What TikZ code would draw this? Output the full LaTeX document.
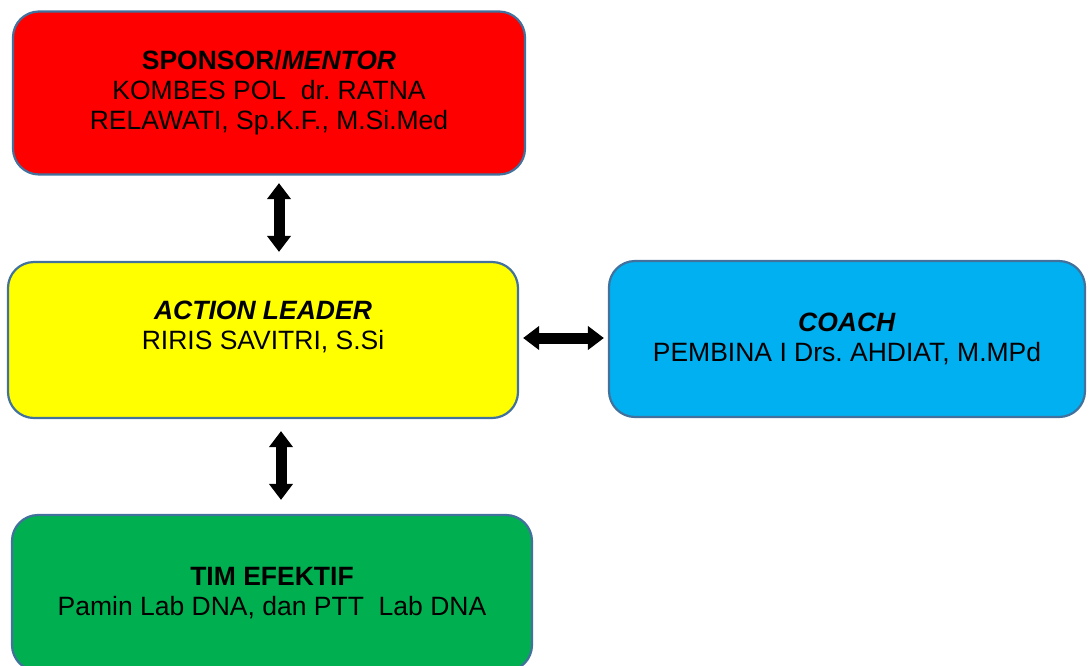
\documentclass[tikz,border=0pt]{standalone}
\usepackage{fontspec}
\setmainfont{Liberation Sans}
\usetikzlibrary{arrows.meta}
\definecolor{boxborder}{HTML}{41719C}
\definecolor{cred}{HTML}{FF0000}
\definecolor{cyellow}{HTML}{FFFF00}
\definecolor{cblue}{HTML}{00B0F0}
\definecolor{cgreen}{HTML}{00B050}
\tikzset{
  card/.style={draw=boxborder, line width=2.2pt, rounded corners=26pt, inner sep=0pt,
    align=center, font=\fontsize{26.5}{30}\selectfont\frenchspacing, text=black},
  biarrow/.style={line width=11pt, black,
    {Triangle[width=23pt,length=16pt]}-{Triangle[width=23pt,length=16pt]}}
}
\begin{document}
\begin{tikzpicture}[x=1pt,y=-1pt]
\clip (0,0) rectangle (1089,665);
\node[card, fill=cred, minimum width=512pt, minimum height=163pt] (sponsor) at (269,93)
  {\textbf{SPONSOR/\textit{MENTOR}}\\KOMBES POL\ \ dr. RATNA\\RELAWATI, Sp.K.F., M.Si.Med};
\node[card, fill=cyellow, minimum width=510pt, minimum height=156pt] (leader) at (263,340)
  {\textbf{\textit{ACTION LEADER}}\\RIRIS SAVITRI, S.Si\\\mbox{}};
\node[card, fill=cblue, minimum width=476pt, minimum height=156pt] (coach) at (847,339)
  {\textbf{\textit{COACH}}\\PEMBINA I Drs. AHDIAT, M.MPd};
\node[card, fill=cgreen, minimum width=520pt, minimum height=156pt] (team) at (272,593)
  {\textbf{TIM EFEKTIF}\\Pamin Lab DNA, dan PTT\ \ Lab DNA};
\draw[biarrow] ([xshift=10pt,yshift=-7.5pt]sponsor.south) -- ([xshift=16pt,yshift=9pt]leader.north);
\draw[biarrow] ([xshift=18pt,yshift=-12pt]leader.south) -- ([xshift=9pt,yshift=14pt]team.north);
\draw[biarrow] ([xshift=4pt,yshift=2pt]leader.east) -- ([xshift=-4pt,yshift=1pt]coach.west);
\end{tikzpicture}
\end{document}
